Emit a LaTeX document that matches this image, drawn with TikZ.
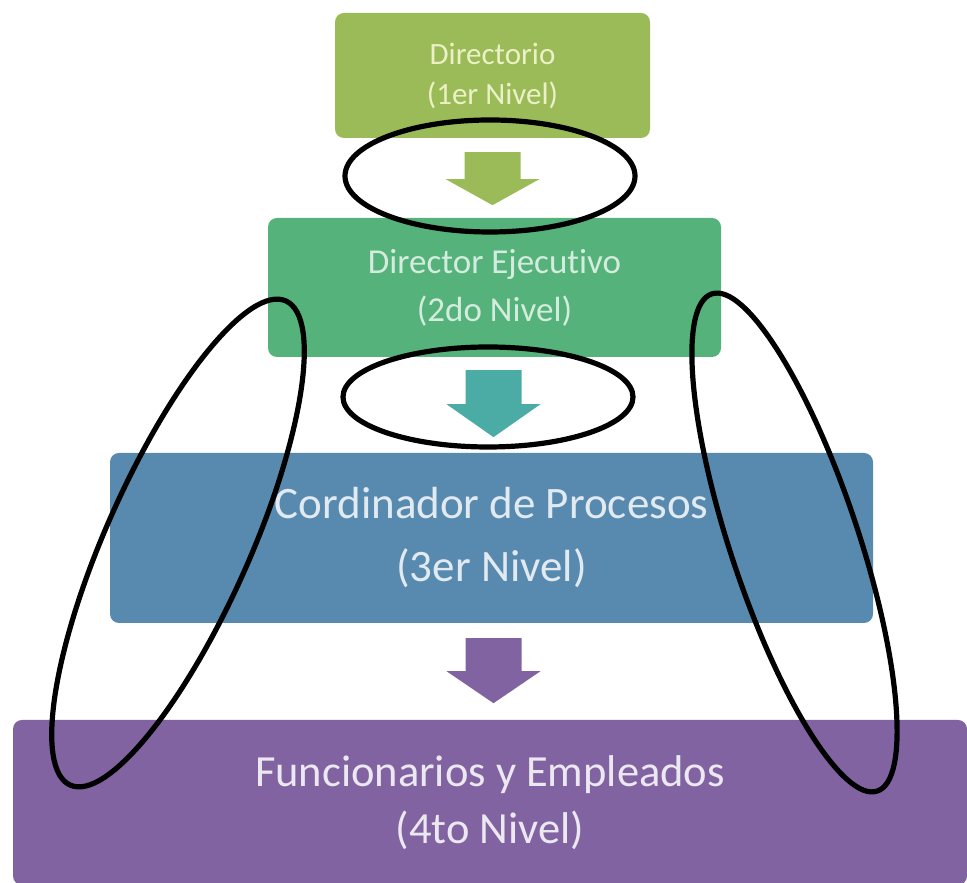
\documentclass[tikz,border=0pt]{standalone}
\usepackage{fontspec}
\setmainfont{Carlito}[Ligatures=NoCommon]
\usetikzlibrary{positioning}

\definecolor{lvlone}{RGB}{155,187,89}
\definecolor{lvltwo}{RGB}{85,178,122}
\definecolor{lvlthree}{RGB}{88,138,176}
\definecolor{lvlfour}{RGB}{128,99,160}
\definecolor{arrowtwo}{RGB}{75,172,166}

\begin{document}
\begin{tikzpicture}[
	x=1pt, y=1pt,
	level/.style={rectangle, rounded corners=9pt, inner sep=0pt, align=center},
	ring/.style={draw=black, line width=5.2pt},
	blockarrow/.pic={\fill (-28,0) -- (28,0) -- (28,-33) -- (47,-33) -- (0,-65) -- (-47,-33) -- (-28,-33) -- cycle;}
	]
	
	\useasboundingbox (0,0) rectangle (967,883);
	
	% Levels
	\node[level, fill=lvlone, text=white!78!lvlone!90!yellow, minimum width=315pt, minimum height=125pt,
		font=\fontsize{31}{40}\selectfont] (dir) at (492.5,807.5) {Directorio\\(1er Nivel)};
	\node[level, fill=lvltwo, text=white!75!lvltwo, minimum width=453pt, minimum height=139pt,
		font=\fontsize{35}{48}\selectfont] (exec) at (494.5,595.5) {Director Ejecutivo\\(2do Nivel)};
	\node[level, fill=lvlthree, text=white!82!lvlthree, minimum width=763pt, minimum height=170pt,
		font=\fontsize{45}{63}\selectfont] (coord) at (491.5,345) {Cordinador de Procesos\\(3er Nivel)};
	\node[level, fill=lvlfour, text=white!85!lvlfour, minimum width=954pt, minimum height=165pt,
		font=\fontsize{44.5}{57}\selectfont] (staff) at (490,80.5) {Funcionarios y Empleados\\(4to Nivel)};
	
	% Arrows between levels
	\pic[fill=lvlone, yscale=0.815] at ([yshift=-14pt]dir.south) {blockarrow};
	\pic[fill=arrowtwo, yscale=1.03] at ([yshift=-13pt, xshift=-1pt]exec.south) {blockarrow};
	\pic[fill=lvlfour] at ([yshift=-15pt, xshift=2pt]coord.south) {blockarrow};
	
	% Hand-drawn rings
	\draw[ring] (490,707) ellipse [x radius=145, y radius=56];
	\draw[ring] (488,486) ellipse [x radius=145, y radius=50];
	\draw[ring, rotate around={66:(178,340)}] (178,340) ellipse [x radius=265, y radius=72];
	\draw[ring, rotate around={-71.6:(794.5,340.5)}] (794.5,340.5) ellipse [x radius=262, y radius=64];
	
\end{tikzpicture}
\end{document}
